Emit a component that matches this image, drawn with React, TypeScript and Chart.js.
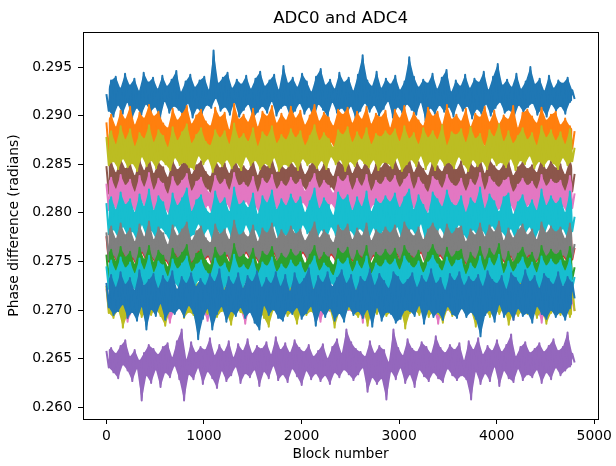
import React, { useEffect, useRef } from "react";
import { Chart, registerables } from "chart.js";

Chart.register(...registerables);

const TITLE = "ADC0 and ADC4";
const X_LABEL = "Block number";
const Y_LABEL = "Phase difference (radians)";
const X_TICKS = [0, 1000, 2000, 3000, 4000, 5000];
const Y_TICKS = [0.26, 0.265, 0.27, 0.275, 0.28, 0.285, 0.29, 0.295];
const LAST_BLOCK = 4799;

// Phase differences, in units of 1e-4 radians, sampled evenly over blocks 0..4799
const BLUE_A = [
  2922, 2905, 2936, 2899, 2940, 2911, 2928, 2902, 2943, 2914,
  2931, 2897, 2938, 2908, 2925, 2901, 2944, 2912, 2934, 2904,
  2939, 2909, 2927, 2896, 2941, 2915, 2930, 2903, 2937, 2910,
  2946, 2906, 2924, 2900, 2935, 2913, 2942, 2898, 2929, 2908,
  2936, 2902, 2940, 2911, 2926, 2908, 2967, 2918, 2933, 2905, 2939,
  2909, 2944, 2901, 2928, 2914, 2937, 2899, 2932, 2906, 2941,
  2912, 2927, 2897, 2938, 2904, 2945, 2910, 2930, 2903, 2936,
  2915, 2942, 2900, 2926, 2908, 2951, 2911, 2933, 2898, 2939,
  2905, 2929, 2913, 2943, 2902, 2935, 2909, 2924, 2896, 2940,
  2912, 2948, 2906, 2931, 2899, 2937, 2914, 2927, 2903, 2944,
  2908, 2934, 2901, 2939, 2910, 2925, 2897, 2942, 2905, 2962, 2913,
  2936, 2904, 2930, 2911, 2945, 2900, 2928, 2907, 2938, 2915,
  2932, 2898, 2941, 2909, 2926, 2903, 2935, 2912, 2960, 2906,
  2940, 2901, 2929, 2914, 2937, 2895, 2933, 2908, 2943, 2902,
  2927, 2911, 2939, 2904, 2947, 2909, 2924, 2899, 2936, 2913,
  2930, 2905, 2942, 2910, 2928, 2897, 2938, 2907, 2934, 2902,
  2945, 2912, 2926, 2900, 2940, 2908, 2953, 2914, 2931, 2903,
  2937, 2906, 2929, 2898, 2943, 2911, 2927, 2904, 2935, 2909,
  2950, 2913, 2932, 2901, 2938, 2907, 2925, 2899, 2941, 2912,
  2928, 2905, 2936, 2910, 2933, 2902, 2939, 2914, 2926, 2917,
];
const ORANGE_A = [
  2893, 2862, 2901, 2868, 2888, 2857, 2905, 2871, 2896, 2864,
  2909, 2866, 2890, 2859, 2903, 2873, 2897, 2861, 2911, 2869,
  2899, 2856, 2904, 2870, 2892, 2863, 2887, 2858, 2907,
  2872, 2895, 2860, 2902, 2867, 2910, 2865, 2891, 2857, 2900,
  2874, 2906, 2862, 2894, 2869, 2889, 2855, 2908, 2871, 2898,
  2863, 2903, 2866, 2885, 2860, 2912, 2868, 2896, 2859, 2901,
  2873, 2893, 2864, 2907, 2870, 2888, 2857, 2904, 2867, 2899,
  2861, 2910, 2872, 2892, 2858, 2902, 2865, 2895, 2862, 2909,
  2869, 2897, 2856, 2905, 2871, 2890, 2863, 2900, 2866, 2911,
  2860, 2894, 2868, 2903, 2859, 2898, 2873, 2889, 2864, 2906,
  2870, 2901, 2857, 2908, 2867, 2892, 2861, 2904, 2869, 2896,
  2865, 2909, 2862, 2891, 2870, 2902, 2858, 2898, 2866, 2905,
  2872, 2887, 2859, 2906, 2864, 2897, 2868, 2910, 2861, 2893,
  2871, 2903, 2856, 2895, 2867, 2889, 2863, 2908, 2869, 2899,
  2860, 2904, 2873, 2890, 2858, 2911, 2866, 2896, 2862, 2901,
  2868, 2894, 2857, 2907, 2870, 2888, 2864, 2902, 2859, 2898,
  2872, 2909, 2865, 2893, 2861, 2905, 2869, 2891, 2856, 2900,
  2867, 2896, 2863, 2910, 2871, 2887, 2858, 2903, 2866, 2906,
  2862, 2899, 2870, 2892, 2857, 2908, 2864, 2895, 2868, 2901,
  2860, 2904, 2869, 2890, 2863, 2897, 2872, 2889, 2866, 2884,
];
const OLIVE_A = [
  2878, 2849, 2884, 2853, 2870, 2845, 2889, 2856, 2875, 2847,
  2886, 2851, 2868, 2843, 2882, 2858, 2876, 2848, 2890, 2854,
  2872, 2846, 2885, 2855, 2879, 2850, 2867, 2844, 2888, 2857,
  2874, 2849, 2883, 2852, 2891, 2847, 2871, 2845, 2880, 2859,
  2887, 2850, 2873, 2856, 2869, 2842, 2885, 2853, 2877, 2848,
  2884, 2855, 2870, 2846, 2892, 2852, 2876, 2844, 2881, 2858,
  2873, 2849, 2887, 2854, 2868, 2845, 2883, 2851, 2878, 2847,
  2889, 2857, 2871, 2843, 2880, 2850, 2875, 2848, 2886, 2853,
  2877, 2844, 2884, 2856, 2869, 2849, 2879, 2852, 2890, 2846,
  2874, 2854, 2882, 2845, 2876, 2858, 2867, 2850, 2885, 2855,
  2880, 2843, 2888, 2853, 2872, 2848, 2883, 2856, 2875, 2851,
  2887, 2847, 2870, 2855, 2881, 2844, 2878, 2852, 2884,
  2851, 2879, 2846, 2886, 2857, 2873, 2843, 2889, 2850, 2876,
  2855, 2882, 2848, 2870, 2859, 2887, 2845, 2877, 2853, 2884,
  2844, 2875, 2856, 2890, 2849, 2869, 2852, 2883, 2846, 2880,
  2858, 2886, 2850, 2872, 2843, 2888, 2855, 2876, 2848, 2881,
  2853, 2868, 2845, 2885, 2857, 2878, 2849, 2891, 2852, 2873,
  2847, 2884, 2856, 2871, 2844, 2879, 2854, 2887, 2850, 2875,
  2859, 2882, 2846, 2869, 2853, 2889, 2848, 2877, 2855, 2885,
  2851, 2874, 2845, 2883, 2857, 2870, 2849, 2886, 2853, 2867,
];
const BROWN_A = [
  2848, 2820, 2853, 2825, 2841, 2816, 2856, 2828, 2845, 2819,
  2851, 2823, 2838, 2814, 2855, 2829, 2843, 2818, 2858, 2824,
  2840, 2817, 2852, 2826, 2847, 2821, 2836, 2815, 2854, 2827,
  2844, 2819, 2850, 2822, 2857, 2816, 2839, 2820, 2849, 2828,
  2853, 2818, 2842, 2825, 2837, 2813, 2855, 2823, 2846, 2819,
  2851, 2826, 2840, 2817, 2858, 2821, 2845, 2815, 2848, 2829,
  2843, 2820, 2854, 2824, 2838, 2816, 2852, 2822, 2847, 2818,
  2856, 2827, 2841, 2814, 2849, 2820, 2844, 2819, 2853, 2825,
  2846, 2815, 2851, 2828, 2839, 2821, 2848, 2823, 2857, 2817,
  2842, 2824, 2850, 2816, 2845, 2827, 2837, 2820, 2854, 2826,
  2849, 2814, 2855, 2822, 2840, 2818, 2852, 2825, 2844, 2821,
  2856, 2817, 2839, 2826, 2850, 2815, 2846, 2823, 2853,
  2822, 2847, 2818, 2855, 2827, 2843, 2814, 2850, 2820, 2857,
  2825, 2841, 2816, 2852, 2828, 2845, 2819, 2838, 2823, 2854,
  2815, 2848, 2826, 2842, 2818, 2856, 2821, 2849, 2817, 2844,
  2829, 2853, 2820, 2839, 2814, 2851, 2824, 2846, 2819, 2857,
  2823, 2840, 2816, 2855, 2827, 2848, 2818, 2843, 2822, 2850,
  2817, 2854, 2825, 2838, 2815, 2847, 2828, 2852, 2820, 2845,
  2826, 2849, 2814, 2841, 2823, 2856, 2819, 2844, 2827, 2853,
  2821, 2846, 2817, 2850, 2824, 2839, 2816, 2855, 2822, 2840,
];
const PINK_A = [
  2830, 2803, 2836, 2808, 2824, 2799, 2839, 2811, 2828, 2801,
  2834, 2806, 2821, 2797, 2838, 2812, 2826, 2800, 2841, 2807,
  2823, 2798, 2835, 2809, 2830, 2804, 2819, 2796, 2837, 2810,
  2827, 2802, 2833, 2805, 2840, 2799, 2822, 2803, 2832, 2811,
  2836, 2800, 2825, 2808, 2820, 2795, 2838, 2806, 2829, 2802,
  2834, 2809, 2823, 2799, 2841, 2804, 2828, 2797, 2831, 2812,
  2826, 2803, 2837, 2807, 2821, 2798, 2835, 2805, 2830, 2801,
  2839, 2810, 2824, 2796, 2832, 2803, 2827, 2802, 2836, 2808,
  2829, 2797, 2834, 2811, 2822, 2804, 2831, 2806, 2840, 2800,
  2825, 2807, 2833, 2799, 2828, 2810, 2820, 2803, 2837, 2809,
  2832, 2796, 2838, 2805, 2823, 2801, 2835, 2808, 2827, 2804,
  2839, 2800, 2822, 2809, 2833, 2798, 2829, 2806, 2836,
  2805, 2831, 2799, 2838, 2810, 2826, 2797, 2834, 2803, 2840,
  2808, 2824, 2801, 2836, 2812, 2829, 2796, 2821, 2806, 2837,
  2798, 2833, 2809, 2825, 2802, 2839, 2804, 2830, 2800, 2827,
  2811, 2835, 2803, 2822, 2797, 2834, 2807, 2828, 2801, 2841,
  2806, 2823, 2799, 2837, 2810, 2831, 2802, 2826, 2805, 2833,
  2800, 2836, 2808, 2821, 2798, 2829, 2811, 2835, 2803, 2828,
  2809, 2832, 2797, 2824, 2806, 2839, 2801, 2827, 2810, 2834,
  2804, 2830, 2800, 2833, 2807, 2822, 2799, 2838, 2805, 2820,
];
const CYAN_A = [
  2810, 2778, 2816, 2783, 2803, 2774, 2821, 2786, 2808, 2776,
  2814, 2781, 2800, 2771, 2819, 2788, 2806, 2775, 2824, 2782,
  2802, 2773, 2817, 2785, 2811, 2779, 2797, 2770, 2820, 2787,
  2807, 2777, 2815, 2780, 2825, 2774, 2801, 2778, 2813, 2789,
  2818, 2776, 2804, 2784, 2799, 2769, 2822, 2782, 2809, 2775,
  2815, 2786, 2801, 2773, 2826, 2779, 2808, 2771, 2812, 2788,
  2805, 2777, 2820, 2783, 2798, 2772, 2817, 2780, 2810, 2776,
  2823, 2787, 2803, 2770, 2814, 2778, 2807, 2775, 2819, 2784,
  2809, 2771, 2816, 2788, 2800, 2779, 2812, 2781, 2825, 2773,
  2804, 2783, 2815, 2772, 2808, 2786, 2797, 2777, 2821, 2785,
  2813, 2770, 2818, 2782, 2802, 2776, 2816, 2784, 2806, 2779,
  2822, 2774, 2801, 2785, 2814, 2771, 2809, 2782, 2817,
  2781, 2811, 2775, 2820, 2786, 2805, 2772, 2816, 2779, 2824,
  2784, 2803, 2776, 2818, 2789, 2808, 2770, 2799, 2782, 2821,
  2773, 2814, 2785, 2806, 2777, 2823, 2780, 2810, 2775, 2807,
  2788, 2817, 2778, 2800, 2771, 2815, 2783, 2809, 2776, 2826,
  2782, 2804, 2774, 2819, 2787, 2812, 2779, 2801, 2781, 2816,
  2775, 2820, 2784, 2798, 2772, 2811, 2788, 2818, 2778, 2805,
  2786, 2813, 2771, 2802, 2783, 2824, 2776, 2807, 2789, 2817,
  2780, 2809, 2777, 2815, 2784, 2800, 2773, 2822, 2781, 2796,
];
const RED_A = [
  2776, 2750, 2782, 2755, 2769, 2746, 2785, 2758, 2773, 2748,
  2780, 2753, 2766, 2744, 2784, 2759, 2771, 2749, 2787, 2754,
  2768, 2747, 2781, 2756, 2775, 2751, 2763, 2743, 2783, 2757,
  2772, 2748, 2779, 2752, 2786, 2746, 2767, 2750, 2777, 2760,
  2782, 2749, 2770, 2755, 2765, 2742, 2784, 2753, 2774, 2747,
  2779, 2756, 2768, 2745, 2788, 2751, 2773, 2744, 2776, 2759,
  2771, 2750, 2783, 2754, 2766, 2746, 2780, 2752, 2775, 2748,
  2785, 2758, 2769, 2743, 2778, 2750, 2772, 2749, 2782, 2755,
  2774, 2744, 2779, 2759, 2767, 2751, 2776, 2753, 2786, 2747,
  2770, 2754, 2778, 2745, 2773, 2757, 2765, 2750, 2783, 2756,
  2777, 2743, 2784, 2752, 2768, 2748, 2780, 2755, 2772, 2751,
  2785, 2746, 2767, 2756, 2778, 2744, 2774, 2753, 2781,
  2752, 2775, 2747, 2783, 2757, 2770, 2744, 2786, 2750, 2778,
  2755, 2772, 2748, 2781, 2759, 2768, 2745, 2779, 2753, 2787,
  2746, 2777, 2756, 2769, 2749, 2784, 2751, 2774, 2743, 2780,
  2758, 2782, 2750, 2766, 2744, 2779, 2754, 2773, 2748, 2785,
  2753, 2771, 2745, 2783, 2757, 2776, 2749, 2788, 2752, 2767,
  2747, 2780, 2755, 2770, 2743, 2778, 2758, 2784, 2750, 2773,
  2756, 2779, 2746, 2768, 2753, 2786, 2748, 2775, 2757, 2782,
  2751, 2776, 2744, 2781, 2755, 2769, 2749, 2785, 2752, 2764,
];
const GRAY_A = [
  2780, 2752, 2786, 2757, 2773, 2748, 2789, 2760, 2777, 2750,
  2784, 2755, 2770, 2746, 2788, 2761, 2775, 2751, 2791, 2756,
  2772, 2749, 2785, 2758, 2779, 2753, 2767, 2745, 2787, 2759,
  2776, 2750, 2783, 2754, 2790, 2748, 2771, 2752, 2781, 2762,
  2786, 2751, 2774, 2757, 2769, 2744, 2788, 2755, 2778, 2749,
  2783, 2758, 2772, 2747, 2792, 2753, 2777, 2746, 2780, 2761,
  2775, 2752, 2787, 2756, 2770, 2748, 2784, 2754, 2779, 2750,
  2789, 2760, 2773, 2745, 2782, 2752, 2776, 2751, 2786, 2757,
  2778, 2746, 2783, 2761, 2771, 2753, 2780, 2755, 2790, 2749,
  2774, 2756, 2782, 2747, 2777, 2759, 2769, 2752, 2787, 2758,
  2781, 2745, 2788, 2754, 2772, 2750, 2784, 2757, 2776, 2753,
  2789, 2748, 2771, 2758, 2782, 2746, 2778, 2755, 2785,
  2754, 2779, 2749, 2787, 2759, 2774, 2746, 2790, 2752, 2782,
  2757, 2776, 2750, 2785, 2761, 2772, 2747, 2783, 2755, 2789,
  2748, 2781, 2758, 2773, 2751, 2788, 2753, 2778, 2745, 2784,
  2760, 2786, 2752, 2770, 2746, 2783, 2756, 2777, 2750, 2789,
  2755, 2775, 2747, 2787, 2759, 2780, 2751, 2791, 2754, 2771,
  2749, 2784, 2757, 2774, 2745, 2782, 2760, 2788, 2752, 2777,
  2758, 2783, 2748, 2772, 2755, 2790, 2750, 2779, 2759, 2786,
  2753, 2780, 2746, 2785, 2757, 2773, 2751, 2789, 2754, 2768,
];
const GREEN_A = [
  2757, 2730, 2762, 2735, 2750, 2726, 2765, 2738, 2754, 2728,
  2760, 2733, 2747, 2724, 2764, 2739, 2752, 2729, 2766, 2734,
  2749, 2727, 2761, 2736, 2756, 2731, 2744, 2723, 2763, 2737,
  2753, 2728, 2759, 2732, 2767, 2726, 2748, 2730, 2758, 2740,
  2762, 2729, 2751, 2735, 2746, 2722, 2764, 2733, 2755, 2727,
  2759, 2736, 2749, 2725, 2768, 2731, 2754, 2724, 2757, 2739,
  2752, 2730, 2763, 2734, 2747, 2726, 2760, 2732, 2756, 2728,
  2765, 2738, 2750, 2723, 2758, 2730, 2753, 2729, 2762, 2735,
  2755, 2724, 2760, 2739, 2748, 2731, 2757, 2733, 2766, 2727,
  2751, 2734, 2759, 2725, 2754, 2737, 2746, 2730, 2763, 2736,
  2758, 2723, 2764, 2732, 2749, 2728, 2761, 2735, 2753, 2731,
  2766, 2726, 2748, 2736, 2759, 2724, 2755, 2733, 2762,
  2732, 2756, 2727, 2763, 2737, 2751, 2724, 2766, 2730, 2758,
  2735, 2753, 2728, 2761, 2739, 2748, 2725, 2759, 2733, 2767,
  2726, 2757, 2736, 2750, 2729, 2764, 2731, 2754, 2723, 2760,
  2738, 2762, 2730, 2746, 2724, 2759, 2734, 2752, 2728, 2765,
  2733, 2751, 2725, 2763, 2737, 2756, 2729, 2768, 2732, 2747,
  2727, 2760, 2735, 2749, 2723, 2758, 2738, 2764, 2730, 2753,
  2736, 2759, 2726, 2748, 2733, 2766, 2728, 2755, 2737, 2762,
  2731, 2757, 2724, 2761, 2735, 2750, 2729, 2765, 2732, 2744,
];
const CYAN_B = [
  2745, 2722, 2751, 2726, 2740, 2719, 2754, 2729, 2743, 2721,
  2749, 2724, 2737, 2717, 2753, 2730, 2741, 2720, 2756, 2725,
  2738, 2718, 2750, 2727, 2746, 2723, 2734, 2716, 2752, 2728,
  2742, 2721, 2748, 2724, 2755, 2719, 2739, 2722, 2747, 2731,
  2751, 2720, 2740, 2726, 2736, 2715, 2753, 2725, 2744, 2719,
  2748, 2727, 2738, 2718, 2757, 2723, 2743, 2717, 2746, 2730,
  2741, 2721, 2752, 2725, 2737, 2719, 2749, 2724, 2745, 2720,
  2754, 2729, 2739, 2716, 2747, 2722, 2742, 2721, 2751, 2726,
  2744, 2717, 2749, 2730, 2738, 2723, 2746, 2724, 2755, 2718,
  2740, 2725, 2748, 2718, 2743, 2728, 2735, 2722, 2752, 2727,
  2747, 2716, 2753, 2723, 2739, 2720, 2750, 2726, 2742, 2722,
  2755, 2719, 2737, 2727, 2748, 2717, 2744, 2724, 2751,
  2723, 2746, 2718, 2752, 2728, 2741, 2716, 2755, 2721, 2748,
  2726, 2743, 2719, 2750, 2730, 2738, 2717, 2749, 2724, 2756,
  2718, 2747, 2727, 2740, 2720, 2754, 2722, 2744, 2715, 2751,
  2729, 2752, 2721, 2736, 2716, 2748, 2725, 2742, 2719, 2755,
  2724, 2740, 2717, 2753, 2728, 2745, 2720, 2757, 2723, 2737,
  2719, 2750, 2726, 2739, 2715, 2747, 2729, 2754, 2721, 2742,
  2727, 2749, 2718, 2738, 2724, 2755, 2720, 2745, 2728, 2752,
  2722, 2746, 2716, 2751, 2726, 2740, 2719, 2753, 2723, 2734,
];
const BLUE_B = [
  2728, 2703, 2736, 2695, 2723, 2699, 2739, 2706, 2726, 2692,
  2733, 2698, 2720, 2689, 2741, 2704, 2725, 2680, 2731, 2701,
  2737, 2694, 2722, 2707, 2735, 2690, 2728, 2699, 2740, 2696,
  2721, 2702, 2734, 2693, 2727, 2705, 2738, 2697, 2724, 2670,
  2732, 2691, 2725, 2702, 2737, 2680, 2729, 2696, 2742, 2704,
  2720, 2688, 2734, 2699, 2726, 2694, 2738, 2703, 2722, 2692,
  2735, 2698, 2729, 2687, 2740, 2680, 2723, 2705, 2733, 2695,
  2727, 2701, 2739, 2692, 2724, 2689, 2736, 2700, 2719, 2696,
  2738, 2703, 2726, 2691, 2732, 2697, 2743, 2704, 2721, 2684,
  2735, 2700, 2728, 2693, 2739, 2702, 2724, 2689, 2733, 2697,
  2741, 2688, 2727, 2704, 2736, 2695, 2720, 2699, 2734, 2692,
  2729, 2701, 2742, 2683, 2725, 2703, 2737, 2689, 2730, 2698,
  2722, 2696, 2739, 2687, 2734, 2691, 2726, 2700, 2731, 2699,
  2738, 2694, 2723, 2705, 2735, 2686, 2728, 2701, 2742, 2693,
  2727, 2698, 2733, 2690, 2720, 2704, 2737, 2696, 2730, 2692,
  2739, 2702, 2725, 2693, 2734, 2698, 2729, 2691, 2736, 2673,
  2724, 2695, 2740, 2700, 2731, 2688, 2727, 2706, 2735, 2693,
  2721, 2699, 2738, 2690, 2733, 2702, 2726, 2694, 2741, 2697,
  2729, 2687, 2735, 2704, 2722, 2696, 2737, 2691, 2732, 2700,
  2726, 2693, 2739, 2698, 2724, 2690, 2734, 2702, 2728, 2712,
];
const OLIVE_B = [
  2725, 2697, 2731, 2692, 2718, 2700, 2734, 2682, 2722, 2696,
  2729, 2699, 2715, 2702, 2733, 2693, 2720, 2698, 2727, 2695,
  2716, 2701, 2730, 2694, 2724, 2684, 2712, 2699, 2732, 2697,
  2721, 2703, 2728, 2692, 2735, 2698, 2717, 2695, 2726, 2680,
  2731, 2700, 2719, 2696, 2714, 2702, 2733, 2693, 2723, 2699,
  2728, 2697, 2716, 2685, 2736, 2701, 2721, 2698, 2725, 2694,
  2720, 2702, 2732, 2696, 2715, 2699, 2729, 2692, 2724, 2683,
  2734, 2700, 2718, 2697, 2727, 2703, 2722, 2694, 2730, 2698,
  2723, 2686, 2728, 2701, 2716, 2695, 2725, 2699, 2735, 2693,
  2719, 2702, 2727, 2696, 2722, 2700, 2714, 2682, 2731, 2698,
  2726, 2695, 2733, 2701, 2717, 2697, 2729, 2693, 2721, 2700,
  2734, 2684, 2716, 2699, 2728, 2696, 2724, 2702, 2730, 2694,
  2723, 2698, 2730, 2692, 2718, 2701, 2733, 2681, 2726, 2697,
  2720, 2700, 2729, 2695, 2715, 2703, 2727, 2693, 2735, 2699,
  2724, 2696, 2717, 2687, 2732, 2701, 2721, 2694, 2728, 2698,
  2731, 2702, 2714, 2695, 2726, 2699, 2719, 2683, 2734, 2697,
  2716, 2700, 2733, 2693, 2722, 2701, 2736, 2696, 2718, 2702,
  2729, 2685, 2715, 2698, 2725, 2694, 2731, 2700, 2720, 2696,
  2727, 2701, 2713, 2692, 2734, 2699, 2722, 2686, 2730, 2697,
  2721, 2700, 2728, 2695, 2716, 2702, 2732, 2693, 2725, 2699,
];
const PINK_B = [
  2722, 2701, 2728, 2697, 2715, 2703, 2731, 2700, 2719, 2688,
  2726, 2699, 2712, 2704, 2730, 2701, 2717, 2696, 2733, 2702,
  2714, 2698, 2727, 2703, 2721, 2700, 2709, 2687, 2729, 2701,
  2718, 2704, 2725, 2699, 2732, 2702, 2713, 2697, 2723, 2703,
  2728, 2700, 2716, 2689, 2711, 2702, 2730, 2698, 2720, 2704,
  2725, 2701, 2714, 2697, 2734, 2703, 2719, 2700, 2722, 2686,
  2717, 2702, 2729, 2699, 2712, 2704, 2726, 2698, 2721, 2701,
  2731, 2700, 2715, 2703, 2724, 2690, 2719, 2702, 2728, 2699,
  2720, 2704, 2725, 2701, 2713, 2698, 2722, 2703, 2732, 2700,
  2716, 2688, 2724, 2702, 2719, 2699, 2711, 2704, 2729, 2701,
  2723, 2703, 2730, 2700, 2714, 2697, 2726, 2702, 2718, 2687,
  2731, 2701, 2713, 2704, 2725, 2699, 2721, 2702, 2727, 2700,
  2719, 2703, 2727, 2698, 2715, 2701, 2730, 2689, 2722, 2704,
  2716, 2700, 2725, 2702, 2712, 2699, 2728, 2703, 2733, 2701,
  2721, 2686, 2714, 2704, 2729, 2700, 2718, 2702, 2726, 2698,
  2727, 2703, 2711, 2701, 2723, 2699, 2717, 2704, 2731, 2688,
  2713, 2702, 2729, 2700, 2720, 2703, 2734, 2698, 2716, 2701,
  2726, 2704, 2712, 2690, 2722, 2701, 2730, 2699, 2718, 2703,
  2724, 2700, 2715, 2702, 2731, 2687, 2719, 2703, 2727, 2701,
  2720, 2698, 2728, 2704, 2713, 2700, 2732, 2702, 2711, 2699,
];
const PURPLE_A = [
  2658, 2641, 2661, 2636, 2655, 2630, 2663, 2644, 2669, 2638,
  2652, 2627, 2659, 2640, 2648, 2607, 2656, 2633, 2664, 2625,
  2660, 2639, 2654, 2621, 2662, 2636, 2666, 2631, 2651, 2643,
  2668, 2629, 2680, 2607, 2649, 2634, 2667, 2629, 2656, 2641,
  2662, 2624, 2659, 2637, 2671, 2630, 2653, 2620, 2664, 2638,
  2657, 2627, 2668, 2633, 2651, 2642, 2665, 2625, 2658, 2635,
  2670, 2631, 2655, 2639, 2663, 2622, 2660, 2637, 2667, 2630,
  2654, 2643, 2672, 2628, 2659, 2634, 2666, 2626, 2656, 2640,
  2669, 2632, 2661, 2623, 2657, 2638, 2664, 2629, 2652, 2635,
  2658, 2627, 2665, 2633, 2650, 2624, 2662, 2636, 2670, 2631,
  2655, 2639, 2680, 2634, 2667, 2628, 2660, 2634, 2657, 2641,
  2652, 2616, 2668, 2631, 2655, 2624, 2663, 2630, 2659, 2608,
  2646, 2637, 2680, 2629, 2661, 2641, 2653, 2625, 2670, 2634,
  2660, 2621, 2657, 2639, 2667, 2632, 2662, 2627, 2655, 2636,
  2673, 2630, 2661, 2626, 2656, 2640, 2664, 2633, 2659, 2628,
  2666, 2633, 2648, 2629, 2668, 2608, 2659, 2637, 2671, 2624,
  2654, 2635, 2663, 2627, 2658, 2642, 2669, 2622, 2657, 2638,
  2664, 2630, 2675, 2626, 2652, 2640, 2662, 2628, 2667, 2634,
  2656, 2631, 2660, 2639, 2666, 2625, 2657, 2636, 2663, 2629,
  2670, 2641, 2658, 2633, 2662, 2638, 2677, 2642, 2655, 2646,
];

// drawing order: first is at the bottom
const SERIES = [
  { values: PINK_B, color: "#e377c2" },
  { values: OLIVE_B, color: "#bcbd22" },
  { values: PURPLE_A, color: "#9467bd" },
  { values: BLUE_A, color: "#1f77b4" },
  { values: ORANGE_A, color: "#ff7f0e" },
  { values: BROWN_A, color: "#8c564b" },
  { values: OLIVE_A, color: "#bcbd22" },
  { values: PINK_A, color: "#e377c2" },
  { values: CYAN_A, color: "#17becf" },
  { values: RED_A, color: "#d62728" },
  { values: GRAY_A, color: "#7f7f7f" },
  { values: GREEN_A, color: "#2ca02c" },
  { values: CYAN_B, color: "#17becf" },
  { values: BLUE_B, color: "#1f77b4" },
];

const FONT = "'DejaVu Sans', sans-serif";

export default function App() {
  const ref = useRef<HTMLCanvasElement | null>(null);

  useEffect(() => {
    const canvas = ref.current;
    if (!canvas) return;
    const datasets: any[] = [];
    SERIES.forEach((s, k) => {
      const pts = s.values.map((v, i) => ({ x: (i * LAST_BLOCK) / (s.values.length - 1), y: v / 10000 }));
      const base = 1000 - 3 * k;
      // band between alternate samples (solid core of the dense trace)
      datasets.push({
        data: pts.filter((_, i) => i % 2 === 0),
        borderWidth: 0,
        borderColor: "rgba(0,0,0,0)",
        backgroundColor: s.color,
        pointRadius: 0,
        tension: 0,
        fill: "+1",
        order: base,
      });
      datasets.push({
        data: pts.filter((_, i) => i % 2 === 1),
        borderWidth: 0,
        borderColor: "rgba(0,0,0,0)",
        backgroundColor: s.color,
        pointRadius: 0,
        tension: 0,
        fill: false,
        order: base - 1,
      });
      // the trace itself
      datasets.push({
        data: pts,
        borderColor: s.color,
        backgroundColor: s.color,
        borderWidth: 2,
        borderJoinStyle: "round",
        pointRadius: 0,
        tension: 0,
        fill: false,
        order: base - 2,
      });
    });

    const frame = {
      id: "frame",
      afterDraw(chart: any) {
        const { ctx, chartArea } = chart;
        ctx.save();
        ctx.strokeStyle = "#000";
        ctx.lineWidth = 1;
        const l = Math.round(chartArea.left) + 0.5;
        const t = Math.round(chartArea.top) + 0.5;
        const r = Math.round(chartArea.right) + 0.5;
        const b = Math.round(chartArea.bottom) + 0.5;
        ctx.strokeRect(l, t, r - l, b - t);
        ctx.fillStyle = "#000";
        ctx.font = `16.67px ${FONT}`;
        ctx.textAlign = "center";
        ctx.textBaseline = "alphabetic";
        ctx.fillText(TITLE, (chartArea.left + chartArea.right) / 2, 22.7);
        ctx.restore();
      },
    };

    const tickFont = { family: FONT, size: 13.9, lineHeight: 1.2 };

    const chart = new Chart(canvas, {
      type: "line",
      data: { datasets },
      options: {
        animation: false,
        responsive: false,
        devicePixelRatio: 1,
        layout: { padding: { top: 32, right: 13, left: 0, bottom: 0 } },
        plugins: {
          legend: { display: false },
          tooltip: { enabled: false },
          title: { display: false },
          filler: { propagate: false, drawTime: "beforeDatasetDraw" },
        },
        scales: {
          x: {
            type: "linear",
            min: -240,
            max: 5040,
            afterFit(s: any) { s.height = 47; },
            afterBuildTicks(s: any) { s.ticks = X_TICKS.map((v) => ({ value: v })); },
            ticks: { font: tickFont, color: "#000", padding: 4, maxRotation: 0, autoSkip: false, callback: (v: any) => String(v) },
            grid: { display: true, drawOnChartArea: false, drawTicks: true, tickLength: 5, color: "#000" },
            border: { display: true, color: "#000", width: 1 },
            title: { display: true, text: X_LABEL, color: "#000", font: tickFont, padding: { top: 0, bottom: 3 } },
          },
          y: {
            type: "linear",
            min: 0.2588,
            max: 0.2986,
            afterFit(s: any) { s.width = 83; },
            afterBuildTicks(s: any) { s.ticks = Y_TICKS.map((v) => ({ value: v })); },
            ticks: { font: tickFont, color: "#000", padding: 6, autoSkip: false, callback: (v: any) => Number(v).toFixed(3) },
            grid: { display: true, drawOnChartArea: false, drawTicks: true, tickLength: 5, color: "#000" },
            border: { display: true, color: "#000", width: 1 },
            title: { display: true, text: Y_LABEL, color: "#000", font: tickFont, padding: { top: 6, bottom: 0 } },
          },
        },
      },
      plugins: [frame],
    } as any);

    return () => chart.destroy();
  }, []);

  return (
    <div style={{ position: "fixed", left: 0, top: 0, width: 616, height: 466, background: "#fff" }}>
      <canvas ref={ref} width={616} height={466} style={{ display: "block", width: 616, height: 466 }} />
    </div>
  );
}
